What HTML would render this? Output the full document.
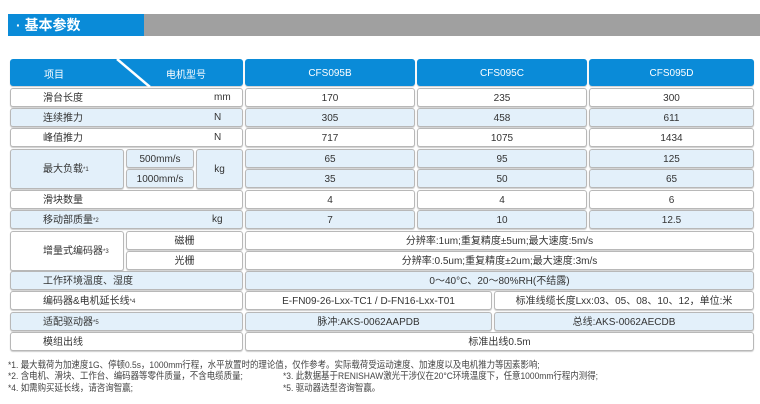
<!DOCTYPE html>
<html><head><meta charset="utf-8"><style>
*{margin:0;padding:0;box-sizing:border-box}
body{width:760px;height:404px;background:#fff;position:relative;overflow:hidden;font-family:"Liberation Sans","Noto Sans CJK SC",sans-serif;color:#333}
.c{position:absolute;border:1px solid #b8b8b8;border-radius:3px;font-size:10px;line-height:12px;display:flex;align-items:center;justify-content:center;background:#fff;box-shadow:0 1px 1px #ccc;padding-top:2px}
.b{background:#e3f0fa}
.l{justify-content:flex-start;padding-left:32px}
.h{background:#0a8bd8;color:#fff;border-color:#0a8bd8}
.u{position:absolute;font-size:10px}
.n{position:absolute;font-size:9.5px;color:#444;white-space:nowrap;transform:scaleX(.89);transform-origin:left}
sup{font-size:6px}
</style></head><body>
<div style="position:absolute;left:8px;top:14px;width:136px;height:22px;background:#0a8bd8;color:#fff;font-size:14px;font-weight:bold;line-height:22px;padding-left:8px">· 基本参数</div>
<div style="position:absolute;left:144px;top:14px;width:616px;height:22px;background:#a0a0a0"></div>

<div class="c h" style="left:10px;top:59px;width:233px;height:27px"></div>
<svg style="position:absolute;left:10px;top:59px" width="233" height="28"><line x1="107" y1="0" x2="140" y2="28" stroke="#fff" stroke-width="2.5"/></svg>
<div class="u" style="left:44px;top:66px;color:#fff">项目</div>
<div class="u" style="left:166px;top:66px;color:#fff">电机型号</div>
<div class="c h" style="left:245px;top:59px;width:170px;height:27px">CFS095B</div>
<div class="c h" style="left:417px;top:59px;width:170px;height:27px">CFS095C</div>
<div class="c h" style="left:589px;top:59px;width:165px;height:27px">CFS095D</div>

<div class="c l" style="left:10px;top:88px;width:233px;height:19px">滑台长度</div><div class="u" style="left:214px;top:92px">mm</div>
<div class="c" style="left:245px;top:88px;width:170px;height:19px">170</div><div class="c" style="left:417px;top:88px;width:170px;height:19px">235</div><div class="c" style="left:589px;top:88px;width:165px;height:19px">300</div>

<div class="c l b" style="left:10px;top:108px;width:233px;height:19px">连续推力</div><div class="u" style="left:214px;top:112px">N</div>
<div class="c b" style="left:245px;top:108px;width:170px;height:19px">305</div><div class="c b" style="left:417px;top:108px;width:170px;height:19px">458</div><div class="c b" style="left:589px;top:108px;width:165px;height:19px">611</div>

<div class="c l" style="left:10px;top:128px;width:233px;height:19px">峰值推力</div><div class="u" style="left:214px;top:132px">N</div>
<div class="c" style="left:245px;top:128px;width:170px;height:19px">717</div><div class="c" style="left:417px;top:128px;width:170px;height:19px">1075</div><div class="c" style="left:589px;top:128px;width:165px;height:19px">1434</div>

<div class="c l b" style="left:10px;top:149px;width:114px;height:40px">最大负载<sup>*1</sup></div>
<div class="c b" style="left:126px;top:149px;width:68px;height:19px">500mm/s</div>
<div class="c b" style="left:126px;top:169px;width:68px;height:19px">1000mm/s</div>
<div class="c b" style="left:196px;top:149px;width:47px;height:40px">kg</div>
<div class="c b" style="left:245px;top:149px;width:170px;height:19px">65</div><div class="c b" style="left:417px;top:149px;width:170px;height:19px">95</div><div class="c b" style="left:589px;top:149px;width:165px;height:19px">125</div>
<div class="c b" style="left:245px;top:169px;width:170px;height:19px">35</div><div class="c b" style="left:417px;top:169px;width:170px;height:19px">50</div><div class="c b" style="left:589px;top:169px;width:165px;height:19px">65</div>

<div class="c l" style="left:10px;top:190px;width:233px;height:19px">滑块数量</div>
<div class="c" style="left:245px;top:190px;width:170px;height:19px">4</div><div class="c" style="left:417px;top:190px;width:170px;height:19px">4</div><div class="c" style="left:589px;top:190px;width:165px;height:19px">6</div>

<div class="c l b" style="left:10px;top:210px;width:233px;height:19px">移动部质量<sup>*2</sup></div><div class="u" style="left:212px;top:214px">kg</div>
<div class="c b" style="left:245px;top:210px;width:170px;height:19px">7</div><div class="c b" style="left:417px;top:210px;width:170px;height:19px">10</div><div class="c b" style="left:589px;top:210px;width:165px;height:19px">12.5</div>

<div class="c l" style="left:10px;top:231px;width:114px;height:40px">增量式编码器<sup>*3</sup></div>
<div class="c" style="left:126px;top:231px;width:117px;height:19px">磁栅</div>
<div class="c" style="left:126px;top:251px;width:117px;height:19px">光栅</div>
<div class="c" style="left:245px;top:231px;width:509px;height:19px">分辨率:1um;重复精度±5um;最大速度:5m/s</div>
<div class="c" style="left:245px;top:251px;width:509px;height:19px">分辨率:0.5um;重复精度±2um;最大速度:3m/s</div>

<div class="c l b" style="left:10px;top:271px;width:233px;height:19px">工作环境温度、湿度</div>
<div class="c b" style="left:245px;top:271px;width:509px;height:19px">0～40°C、20～80%RH(不结露)</div>

<div class="c l" style="left:10px;top:291px;width:233px;height:19px">编码器&amp;电机延长线<sup>*4</sup></div>
<div class="c" style="left:245px;top:291px;width:247px;height:19px">E-FN09-26-Lxx-TC1 / D-FN16-Lxx-T01</div>
<div class="c" style="left:494px;top:291px;width:260px;height:19px">标准线缆长度Lxx:03、05、08、10、12，单位:米</div>

<div class="c l b" style="left:10px;top:312px;width:233px;height:19px">适配驱动器<sup>*5</sup></div>
<div class="c b" style="left:245px;top:312px;width:247px;height:19px">脉冲:AKS-0062AAPDB</div>
<div class="c b" style="left:494px;top:312px;width:260px;height:19px">总线:AKS-0062AECDB</div>

<div class="c l" style="left:10px;top:332px;width:233px;height:19px">模组出线</div>
<div class="c" style="left:245px;top:332px;width:509px;height:19px">标准出线0.5m</div>

<div class="n" style="left:8px;top:357px">*1. 最大载荷为加速度1G、停顿0.5s，1000mm行程，水平放置时的理论值，仅作参考。实际载荷受运动速度、加速度以及电机推力等因素影响;</div>
<div class="n" style="left:8px;top:368px">*2. 含电机、滑块、工作台、编码器等零件质量，不含电缆质量;</div>
<div class="n" style="left:283px;top:368px">*3. 此数据基于RENISHAW激光干涉仪在20°C环境温度下，任意1000mm行程内测得;</div>
<div class="n" style="left:8px;top:380px">*4. 如需购买延长线，请咨询智赢;</div>
<div class="n" style="left:283px;top:380px">*5. 驱动器选型咨询智赢。</div>
</body></html>
